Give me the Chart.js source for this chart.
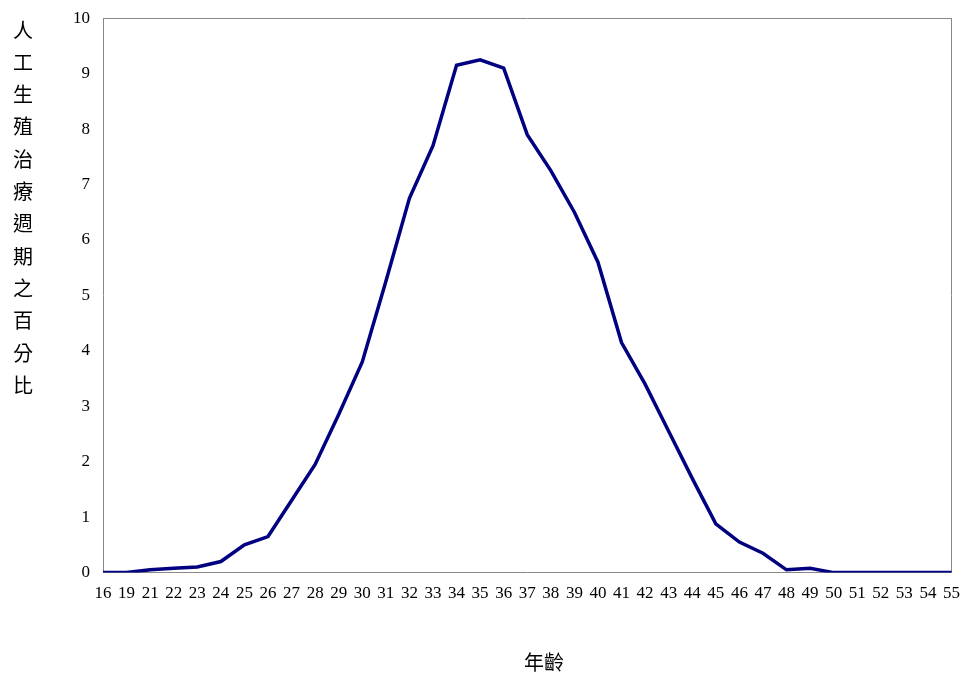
<!DOCTYPE html>
<html><head><meta charset="utf-8">
<script src="https://cdn.jsdelivr.net/npm/chart.js@4"></script>
<style>body{margin:0;background:#fff}#wrap{width:966px;height:677px}</style>
</head><body><div id="wrap"><canvas id="c"></canvas></div>
<script>
const ages = ["16","19","21","22","23","24","25","26","27","28","29","30","31","32","33","34","35","36","37","38","39","40","41","42","43","44","45","46","47","48","49","50","51","52","53","54","55"]
const percents = [0,0,0.05,0.08,0.1,0.2,0.5,0.65,1.3,1.95,2.85,3.8,5.25,6.75,7.7,9.15,9.25,9.1,7.9,7.25,6.5,5.6,4.15,3.4,2.55,1.7,0.88,0.55,0.35,0.05,0.08,0,0,0,0,0,0]
const yTitle = "人工生殖治療週期之百分比"
const xTitle = "年齡"

const verticalTitle = {
  id: "verticalTitle",
  afterDraw(chart) {
    const ctx = chart.ctx
    ctx.save()
    ctx.fillStyle = "#000"
    ctx.font = "20px 'Noto Sans CJK TC'"
    ctx.textAlign = "center"
    ctx.textBaseline = "middle"
    ;[...yTitle].forEach((ch, i) => ctx.fillText(ch, 23, 30 + i * 32.3))
    ctx.fillText(xTitle, 544, 662)
    ctx.restore()
  }
}

new Chart(document.getElementById("c"), {
  type: "line",
  data: {
    labels: ages,
    datasets: [{
      data: percents,
      borderColor: "#000080",
      borderWidth: 3.5,
      pointRadius: 0,
      tension: 0,
      fill: false
    }]
  },
  options: {
    animation: false,
    responsive: true,
    maintainAspectRatio: false,
    layout: { padding: { left: 65, right: 5, top: 9, bottom: 67 } },
    plugins: { legend: { display: false }, tooltip: { enabled: false } },
    scales: {
      x: {
        offset: false,
        grid: { display: false, drawTicks: true, tickLength: 5 },
        border: { color: "#888", width: 1 },
        ticks: { color: "#000", font: { family: "Liberation Serif", size: 17 }, maxRotation: 0, autoSkip: false, padding: 6 }
      },
      y: {
        min: 0, max: 10,
        grid: { display: false, drawTicks: true, tickLength: 5 },
        border: { color: "#888", width: 1 },
        ticks: { stepSize: 1, color: "#000", font: { family: "Liberation Serif", size: 17 }, padding: 8 }
      },
      x2: { position: "top", grid: { display: false }, border: { color: "#888" }, ticks: { display: false } },
      y2: { position: "right", grid: { display: false }, border: { color: "#888" }, ticks: { display: false } }
    }
  },
  plugins: [verticalTitle]
})
</script></body></html>
